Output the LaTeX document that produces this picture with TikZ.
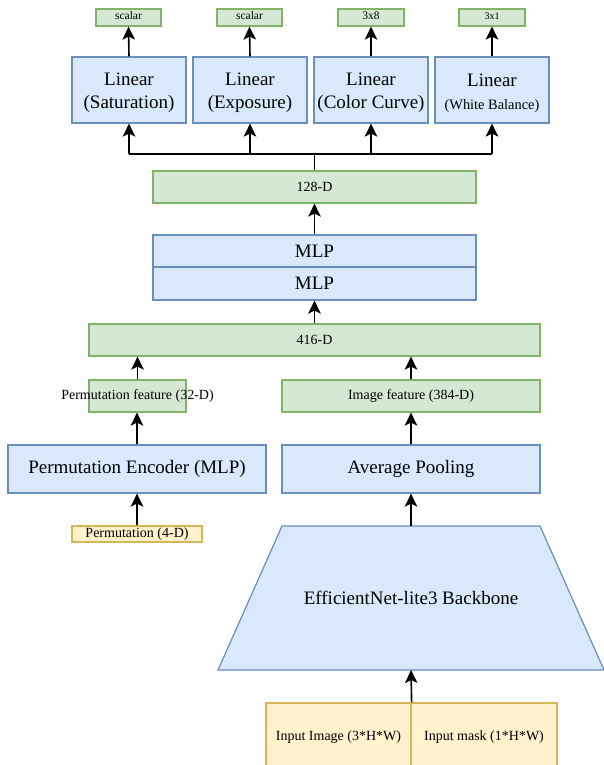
\documentclass[tikz,border=0pt]{standalone}
\usepackage{fontspec}
\setmainfont{Liberation Serif}
\usetikzlibrary{arrows.meta}
\definecolor{bfill}{HTML}{DAE8FC}
\definecolor{bline}{HTML}{6C8EBF}
\definecolor{gfill}{HTML}{D5E8D4}
\definecolor{gline}{HTML}{82B366}
\definecolor{yfill}{HTML}{FFF2CC}
\definecolor{yline}{HTML}{D6B656}
\newcommand{\fs}[1]{\fontsize{#1}{\fpeval{#1*1.2}}\selectfont}
\tikzset{
  box/.style={draw, line width=1.2pt, inner sep=0pt, anchor=center, align=center},
  bluebox/.style={box, fill=bfill, draw=bline},
  greenbox/.style={box, fill=gfill, draw=gline},
  yellowbox/.style={box, fill=yfill, draw=yline},
  linbox/.style={bluebox, minimum width=114pt, minimum height=66pt},
  lintext/.style={font=\fs{19}, align=center, yshift=-3pt, inner sep=0pt},
  arr/.style={line width=1.6pt, -{Stealth[length=13pt,width=12.5pt,inset=3pt]}},
  ln/.style={line width=1.6pt}
}
\begin{document}
\begin{tikzpicture}[x=1pt,y=-1pt]
\useasboundingbox (0,0) rectangle (604,765);
% top outputs
\node[greenbox, minimum width=65pt, minimum height=17pt, font=\fs{11.5}] (o1) at (128.5,17.5) {\raisebox{3.5pt}{scalar}};
\node[greenbox, minimum width=65pt, minimum height=17pt, font=\fs{11.5}] (o2) at (249.5,17.5) {\raisebox{3.5pt}{scalar}};
\node[greenbox, minimum width=66pt, minimum height=17pt, font=\fs{11.5}] (o3) at (371,17.5) {\raisebox{3.5pt}{3x8}};
\node[greenbox, minimum width=66pt, minimum height=17pt, font=\fs{10}] (o4) at (492,17.5) {\raisebox{2.5pt}{3x1}};
% linear heads
\node[linbox, label={[lintext]center:Linear\\(Saturation)}] (l1) at (129,90) {};
\node[linbox, label={[lintext]center:Linear\\(Exposure)}] (l2) at (250,90) {};
\node[linbox, label={[lintext]center:Linear\\(Color Curve)}] (l3) at (371,90) {};
\node[linbox, label={[lintext]center:Linear\\{\fs{14.4}(White Balance)}}] (l4) at (492,90) {};
% 128-D
\node[greenbox, minimum width=323pt, minimum height=32pt, font=\fs{14}] (d128) at (314.5,187) {128-D};
% MLPs
\node[bluebox, minimum width=323pt, minimum height=32pt, font=\fs{19}] (mlp1) at (314.5,251) {MLP};
\node[bluebox, minimum width=323pt, minimum height=33pt, font=\fs{19}] (mlp2) at (314.5,283.5) {MLP};
% 416-D
\node[greenbox, minimum width=451pt, minimum height=32pt, font=\fs{14}] (d416) at (314.5,340) {416-D};
% features
\node[greenbox, minimum width=97pt, minimum height=32pt, font=\fs{14}] (pf) at (137.5,396) {\makebox[0pt][c]{Permutation feature (32-D)}};
\node[greenbox, minimum width=258pt, minimum height=32pt, font=\fs{14}] (imf) at (411,396) {Image feature (384-D)};
% encoders
\node[bluebox, minimum width=258pt, minimum height=48pt, font=\fs{19}] (pe) at (137,469) {Permutation Encoder (MLP)};
\node[bluebox, minimum width=258pt, minimum height=48pt, font=\fs{19}] (ap) at (411,469) {Average Pooling};
% permutation input
\node[yellowbox, minimum width=130pt, minimum height=16pt, font=\fs{14}] (perm) at (137,534) {Permutation (4-D)};
% backbone trapezoid
\draw[line width=1.2pt, draw=bline, fill=bfill] (282,526) -- (540,526) -- (604,670) -- (218,670) -- cycle;
\coordinate (bbtop) at (411,526);
\coordinate (bbbot) at (411,670);
\node[inner sep=0pt, font=\fs{19}] (bbtext) at (411,598) {EfficientNet-lite3 Backbone};
% inputs
\node[yellowbox, minimum width=145pt, minimum height=68pt, font=\fs{14}] (inimg) at (338.5,737) {Input Image (3*H*W)};
\node[yellowbox, minimum width=146pt, minimum height=68pt, font=\fs{14}] (inmask) at (484,737) {Input mask (1*H*W)};
% connectors
\draw[arr] (l1.north) -- (o1.south);
\draw[arr] (l2.north) -- (o2.south);
\draw[arr] (l3.north) -- (o3.south);
\draw[arr] (l4.north) -- (o4.south);
\coordinate (bus) at (314.5,154);
\draw[ln] (d128.north) -- (bus);
\draw[ln] (bus -| l1.south) -- (bus -| l4.south);
\draw[arr] (bus -| l1.south) -- (l1.south);
\draw[arr] (bus -| l2.south) -- (l2.south);
\draw[arr] (bus -| l3.south) -- (l3.south);
\draw[arr] (bus -| l4.south) -- (l4.south);
\draw[arr] (mlp1.north) -- (d128.south);
\draw[arr] (d416.north) -- (mlp2.south);
\draw[arr] (pf.north) -- (pf.north |- d416.south);
\draw[arr] (imf.north) -- (imf.north |- d416.south);
\draw[arr] (pe.north) -- (pf.south -| pe.north);
\draw[arr] (ap.north) -- (imf.south);
\draw[arr] (perm.north) -- (pe.south);
\draw[arr] (bbtop) -- (ap.south);
\draw[arr] (inimg.north east) -- (bbbot);
\end{tikzpicture}
\end{document}
